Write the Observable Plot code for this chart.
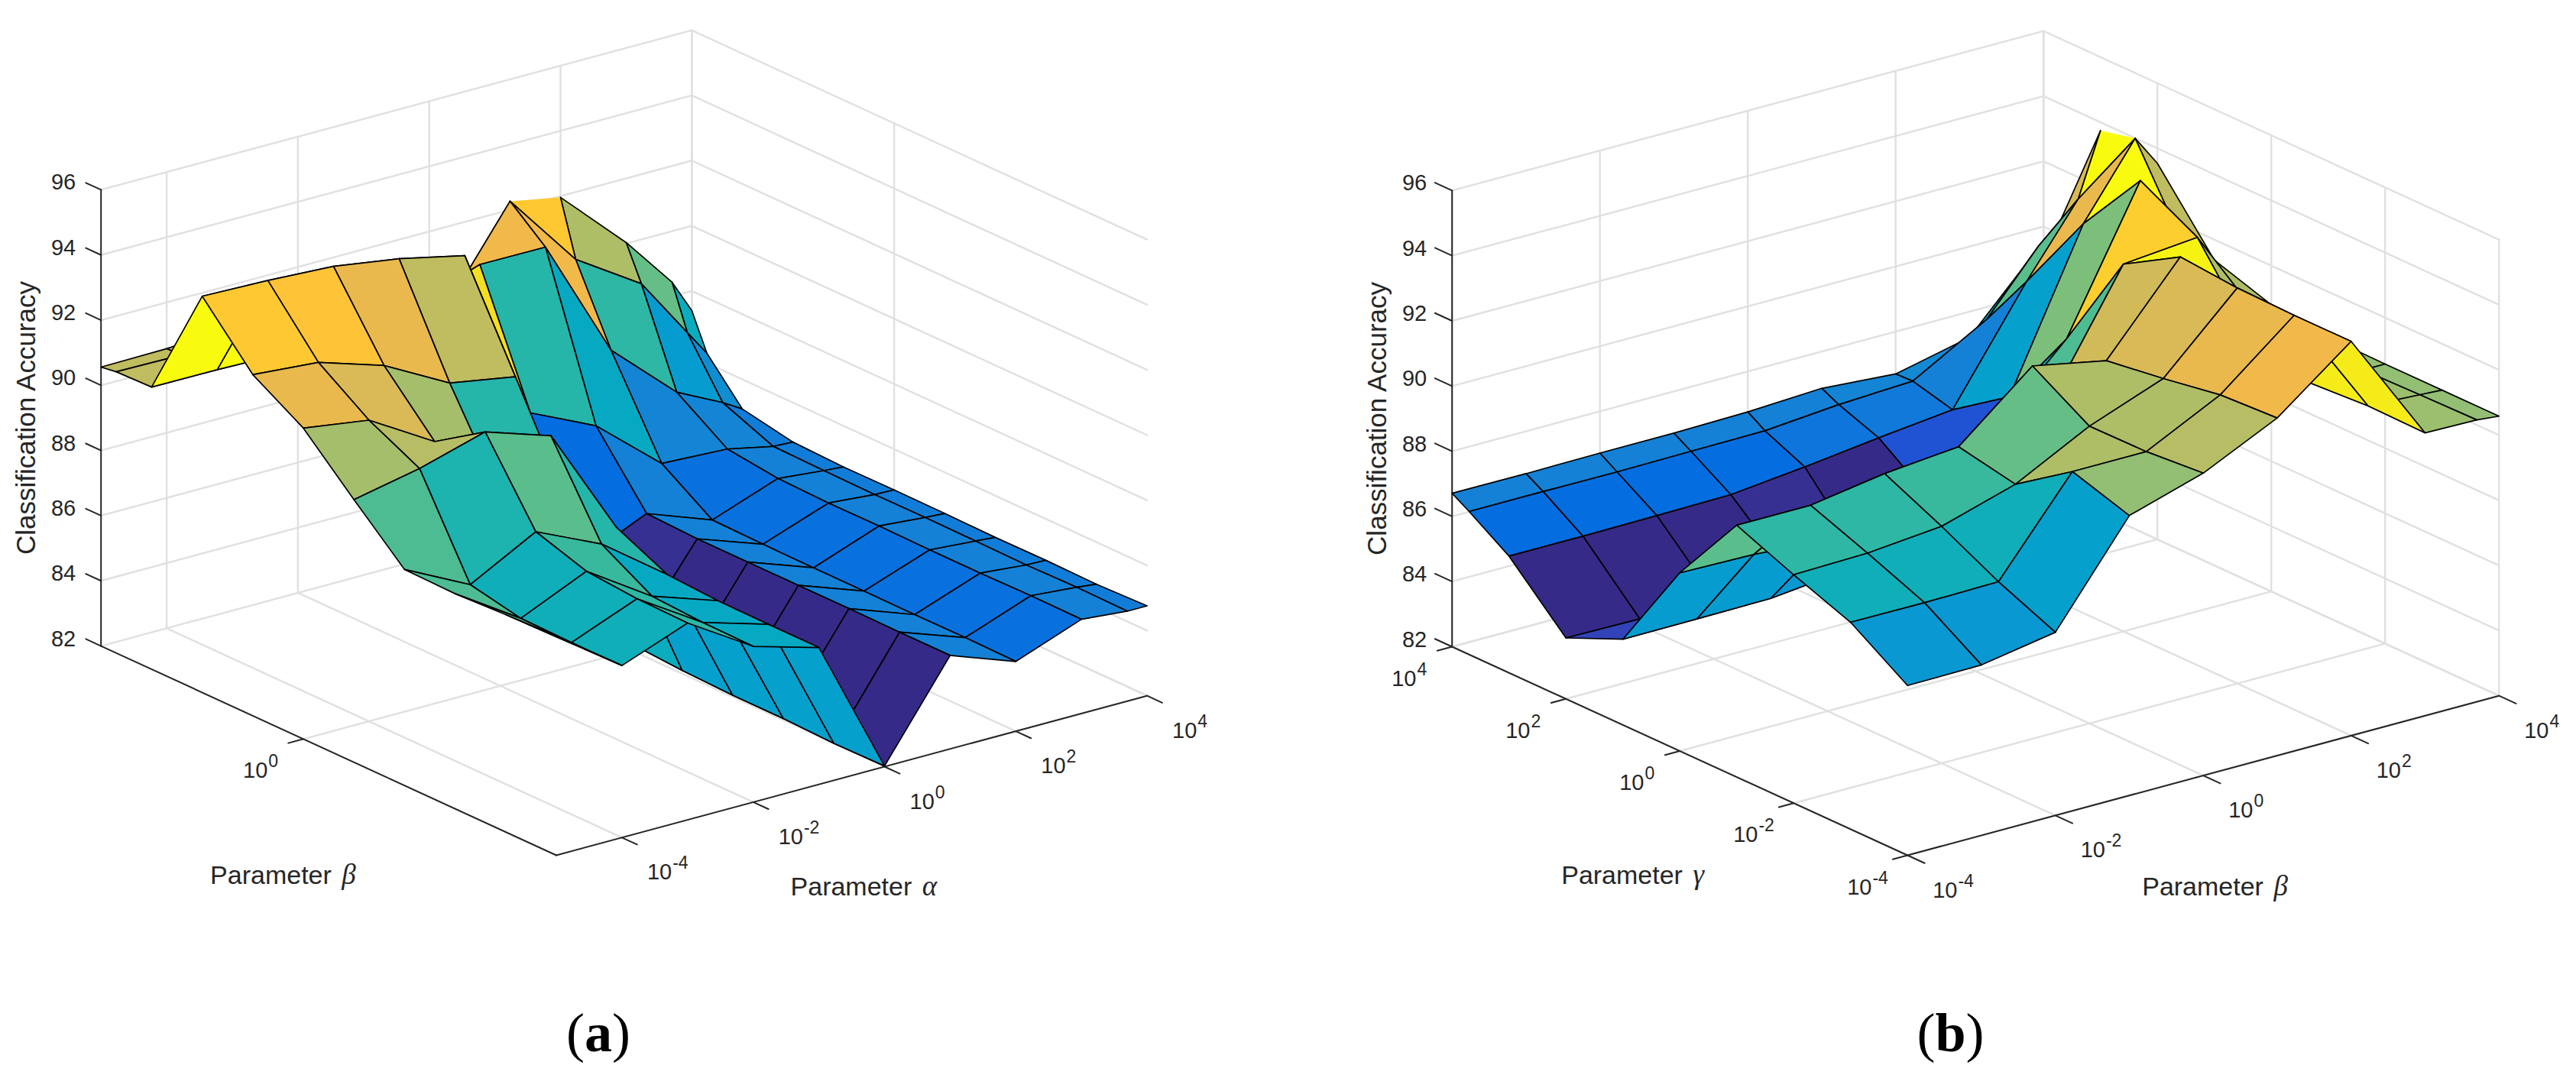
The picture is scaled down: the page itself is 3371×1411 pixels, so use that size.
<!DOCTYPE html>
<html><head><meta charset="utf-8">
<script src="https://cdn.jsdelivr.net/npm/d3@7"></script>
<script src="https://cdn.jsdelivr.net/npm/@observablehq/plot@0.6"></script>
<style>html,body{margin:0;padding:0;background:#fff}#row{display:flex;width:3371px;height:1411px;overflow:hidden}svg{display:block;flex:none}</style>
</head><body><div id="row"></div>
<script>
// grid exponents (log10 of each parameter)
const alphaExpA=[-5,-4,-3,-2,-1,0,1,2,3,3.7,4];
const betaExpA=[-5,-4,-3,-2,-1,0,1,2,3,3.7,4];
const betaExpB=[-4,-3,-2,-1,0,1,2,3,3.7,4];
const gammaExpB=[-4,-3,-2,-1,0,1,2,3,3.7,4];
// accuracy: one row per alpha, one value per beta
const accuracyA=[
[88.7,88.67,88.6,88.63,90.06,91.54,92.47,94.16,90.66,90.63,90.56],
[87.28,87.27,87.3,87.62,90.47,91.24,92.3,94.1,90.65,90.6,90.58],
[88.04,88.07,88.2,88.7,91.05,90.04,91.66,93.99,90.6,90.7,90.7],
[86.78,86.8,86.89,87.78,90.39,87.87,90.58,93.68,90.8,90.9,90.9],
[86.2,86.2,86.21,86.3,87.03,87.2,90.23,93.23,91.0,90.5,90.4],
[82.02,82.0,82.05,82.05,82.1,82.2,84.05,87.86,91.7,89.8,89.48],
[84.87,84.87,84.88,84.88,84.88,84.88,84.94,86.92,91.69,92.6,89.19],
[84.14,84.16,84.15,84.16,84.16,84.17,84.2,85.22,87.98,90.27,91.96],
[84.89,84.9,84.88,84.88,84.9,84.89,84.93,85.12,86.15,88.98,90.03],
[84.76,84.78,84.75,84.77,84.78,84.77,84.79,84.82,85.45,87.1,88.43],
[84.76,84.71,84.73,84.72,84.74,84.75,84.74,84.79,85.09,86.3,87.4]];
// accuracy: one row per beta, one value per gamma
const accuracyB=[
[87.21,88.35,89.01,89.73,87.47,84.63,83.87,85.58,86.39,86.71],
[87.23,88.34,89.06,89.73,87.42,84.64,83.84,85.58,86.39,86.7],
[87.62,88.37,89.27,90.09,87.27,84.66,83.9,85.6,86.38,86.72],
[90.59,91.14,89.95,90.3,87.5,84.9,84.1,85.63,86.4,86.72],
[91.28,91.14,91.12,92.17,87.5,85.5,83.9,85.87,86.42,86.76],
[92.36,92.27,91.97,91.72,89.62,88.0,84.9,86.15,86.61,86.87],
[94.1,94.1,94.14,94.29,93.27,90.17,87.6,86.4,86.72,86.7],
[90.68,90.71,90.6,91.07,93.48,94.42,92.3,89.72,88.0,87.21],
[90.65,90.62,90.58,90.7,91.0,91.43,94.49,91.83,89.82,88.85],
[90.58,90.58,90.58,90.6,90.8,91.37,93.54,93.74,90.43,89.3]];
// faces the reference renders as a single triangle: [rowIndex, colIndex, droppedCorner]
const foldedFacesA=[[6,9,3]];
const foldedFacesB=[[8,6,1]];
const zTicks=[82,84,86,88,90,92,94,96];
const zLabels=["82","84","86","88","90","92","94","96"];
const uTicksA=[-4,-2,0,2,4], uTickLabelsA=["10^-4","10^-2","10^0","10^2","10^4"];
const vTicksA=[0], vTickLabelsA=["10^0"];
const uTicksB=[-4,-2,0,2,4], uTickLabelsB=["10^-4","10^-2","10^0","10^2","10^4"];
const vTicksB=[-4,-2,0,2,4], vTickLabelsB=["10^-4","10^-2","10^0","10^2","10^4"];
const parulaRGB=[[.2081,.1663,.5292],[.2116,.1898,.5777],[.2123,.2138,.627],[.2081,.2386,.6771],[.1959,.2645,.7279],[.1707,.2919,.7792],[.1253,.3242,.8303],[.0591,.3598,.8683],[.0117,.3875,.882],[.006,.4086,.8828],[.0165,.4266,.8786],[.0329,.443,.872],[.0498,.4586,.8641],[.0629,.4737,.8554],[.0723,.4887,.8467],[.0779,.504,.8384],[.0793,.52,.8312],[.0749,.5375,.8263],[.0641,.557,.824],[.0488,.5772,.8228],[.0343,.5966,.8199],[.0265,.6137,.8135],[.0239,.6287,.8038],[.0231,.6418,.7913],[.0228,.6535,.7768],[.0267,.6642,.7607],[.0384,.6743,.7436],[.059,.6838,.7254],[.0843,.6928,.7062],[.1133,.7015,.6859],[.1453,.7098,.6646],[.1801,.7177,.6424],[.2178,.725,.6193],[.2586,.7317,.5954],[.3022,.7376,.5712],[.3482,.7424,.5473],[.3953,.7459,.5244],[.442,.7481,.5033],[.4871,.7491,.484],[.53,.7491,.4661],[.5709,.7485,.4494],[.6099,.7473,.4337],[.6473,.7456,.4188],[.6834,.7435,.4044],[.7184,.7411,.3905],[.7525,.7384,.3768],[.7858,.7356,.3633],[.8185,.7327,.3498],[.8507,.7299,.336],[.8824,.7274,.3217],[.9139,.7258,.3063],[.945,.7261,.2886],[.9739,.7314,.2666],[.9938,.7455,.2403],[.999,.7653,.2164],[.9955,.7861,.1967],[.988,.8066,.1794],[.9789,.8271,.1633],[.9697,.8481,.1475],[.9626,.8705,.1309],[.9589,.8949,.1132],[.9598,.9218,.0948],[.9661,.9514,.0755],[.9763,.9831,.0538]];
const parula=parulaRGB.map(c=>`rgb(${c.map(v=>Math.round(v*255)).join(",")})`);

const INK="#262626", GRID="#e0e0e0";
function richText(index,scales,values,dims,ctx,next){
  const g=next(index,scales,values,dims,ctx);
  d3.select(g).selectAll("text").each(function(){
    const s=this.textContent, el=d3.select(this);
    let m;
    if((m=s.match(/^10\^(.+)$/))){
      el.text("10");
      el.append("tspan").attr("font-size",23).attr("dy",-14).attr("dx",1).text(m[1]);
    } else if((m=s.match(/^(Parameter )(.)$/))){
      el.text(m[1]);
      el.append("tspan").attr("font-style","italic").attr("font-family","Liberation Serif").attr("dx",4).attr("font-size",37).text(m[2]);
    } else if((m=s.match(/^\((.)\)$/))){
      el.text("(");
      el.append("tspan").attr("font-weight","bold").text(m[1]);
      el.append("tspan").text(")");
    }
  });
  return g;
}
function panel(c){
  const P=(u,v,z)=>({px:c.front[0]+(u-c.uMin)*c.uVec[0]+(v-c.vMin)*c.vVec[0],
                     py:c.front[1]+(u-c.uMin)*c.uVec[1]+(v-c.vMin)*c.vVec[1]-(z-82)*c.zPx});
  const grid=[],axes=[]; let n=0;
  const seg=(arr,a,b)=>{const id=n++;arr.push({id,...a},{id,...b});};
  const uMax=c.us.at(-1), vMax=c.vs.at(-1);
  for(const z of zTicks){
    seg(grid,P(c.uMin,vMax,z),P(uMax,vMax,z));
    seg(grid,P(uMax,c.vMin,z),P(uMax,vMax,z));
    seg(axes,P(c.uMin,vMax,z),P(c.uMin,vMax+.3,z));
  }
  for(const u of c.uTicks){
    seg(grid,P(u,vMax,82),P(u,vMax,96));
    seg(grid,P(u,c.vMin,82),P(u,vMax,82));
    seg(axes,P(u,c.vMin,82),P(u,c.vMin-.3,82));
  }
  for(const v of c.vTicks){
    seg(grid,P(uMax,v,82),P(uMax,v,96));
    seg(grid,P(c.uMin,v,82),P(uMax,v,82));
    seg(axes,P(c.uMin,v,82),P(c.uMin-c.vTickLen,v,82));
  }
  seg(grid,P(uMax,vMax,82),P(uMax,vMax,96));
  seg(axes,P(c.uMin,vMax,82),P(c.uMin,vMax,96));
  seg(axes,P(c.uMin,c.vMin,82),P(uMax,c.vMin,82));
  seg(axes,P(c.uMin,c.vMin,82),P(c.uMin,vMax,82));

  const faces=[];
  for(let i=c.us.length-2;i>=0;i--) for(let j=c.vs.length-2;j>=0;j--){
    const corner=[[i,j],[i+1,j],[i+1,j+1],[i,j+1]];
    const fold=c.folded.find(f=>f[0]===i&&f[1]===j);
    const path=fold?[1,2,3].map(k=>corner[(fold[2]+k)%4]):[...corner,corner[0]];
    const face=`${i}-${j}`, value=c.zs[i][j];
    for(const [a,b] of path) faces.push({face,value,...P(c.us[a],c.vs[b],c.zs[a][b])});
  }
  const zT=zTicks.map((z,k)=>({...P(c.uMin,vMax,z),t:zLabels[k]}));
  const uT=c.uTicks.map((u,k)=>({...P(u,c.vMin,82),t:c.uLabels[k]}));
  const vT=c.vTicks.map((v,k)=>({...P(c.uMin,v,82),t:c.vLabels[k]}));
  const uMid=P((c.uMin+uMax)/2,c.vMin,82), vMid=P(c.uMin,(c.vMin+vMax)/2,82), zMid=P(c.uMin,vMax,89);
  const tx={fill:INK,fontFamily:"Liberation Sans",render:richText,lineAnchor:"bottom"};
  return Plot.plot({
    width:c.width,height:1411,margin:0,
    style:{fontFamily:"Liberation Sans",background:"#fff"},
    x:{domain:[c.x0,c.x0+c.width],range:[0,c.width],axis:null},
    y:{domain:[0,1411],range:[0,1411],axis:null},
    color:{type:"linear",domain:d3.extent(c.zs.flat()),interpolate:t=>parula[Math.max(0,Math.min(63,Math.floor(t*64)))]},
    marks:[
      Plot.line(grid,{x:"px",y:"py",z:"id",stroke:GRID,strokeWidth:2.4}),
      Plot.line(axes,{x:"px",y:"py",z:"id",stroke:INK,strokeWidth:2}),
      Plot.line(faces,{x:"px",y:"py",z:"face",fill:"value",stroke:"#000",strokeWidth:1.7,strokeLinejoin:"round"}),
      Plot.text(zT,{x:"px",y:"py",text:"t",...tx,fontSize:29,textAnchor:"end",dx:-33}),
      Plot.text(uT,{x:"px",y:"py",text:"t",...tx,fontSize:29,textAnchor:"start",dx:33,dy:55}),
      Plot.text(vT,{x:"px",y:"py",text:"t",...tx,fontSize:29,textAnchor:"start",dx:-79,dy:51}),
      Plot.text([{...uMid,t:c.uName}],{x:"px",y:"py",text:"t",...tx,fontSize:34,textAnchor:"start",dx:-80,dy:157}),
      Plot.text([{...vMid,t:c.vName}],{x:"px",y:"py",text:"t",...tx,fontSize:34,textAnchor:"start",dx:-155,dy:174}),
      Plot.text([{...zMid,t:"Classification Accuracy"}],{x:"px",y:"py",text:"t",...tx,fontSize:35,rotate:-90,textAnchor:"middle",dx:-86}),
      Plot.text([c.caption],{text:d=>d,frameAnchor:"bottom",lineAnchor:"bottom",dx:c.capDx,dy:-36,fontSize:72,fontFamily:"Liberation Serif",fill:"#000",render:richText})
    ]
  });
}
const row=document.getElementById("row");
row.append(panel({width:1685,x0:0,front:[727.5,1119],uVec:[85.9,-23.2],vVec:[-66.2,-30.44],zPx:42.65,uMin:-5,vMin:-5,
  us:alphaExpA,vs:betaExpA,zs:accuracyA,folded:foldedFacesA,uTicks:uTicksA,uLabels:uTickLabelsA,vTicks:vTicksA,vLabels:vTickLabelsA,vTickLen:.23,
  uName:"Parameter α",vName:"Parameter β",caption:"(a)",capDx:-60}));
row.append(panel({width:1686,x0:1685,front:[2495.7,1119],uVec:[96.75,-26.1],vVec:[-74.5,-34.125],zPx:42.65,uMin:-4,vMin:-4,
  us:betaExpB,vs:gammaExpB,zs:accuracyB,folded:foldedFacesB,uTicks:uTicksB,uLabels:uTickLabelsB,vTicks:vTicksB,vLabels:vTickLabelsB,vTickLen:.2,
  uName:"Parameter β",vName:"Parameter γ",caption:"(b)",capDx:24}));
</script></body></html>
